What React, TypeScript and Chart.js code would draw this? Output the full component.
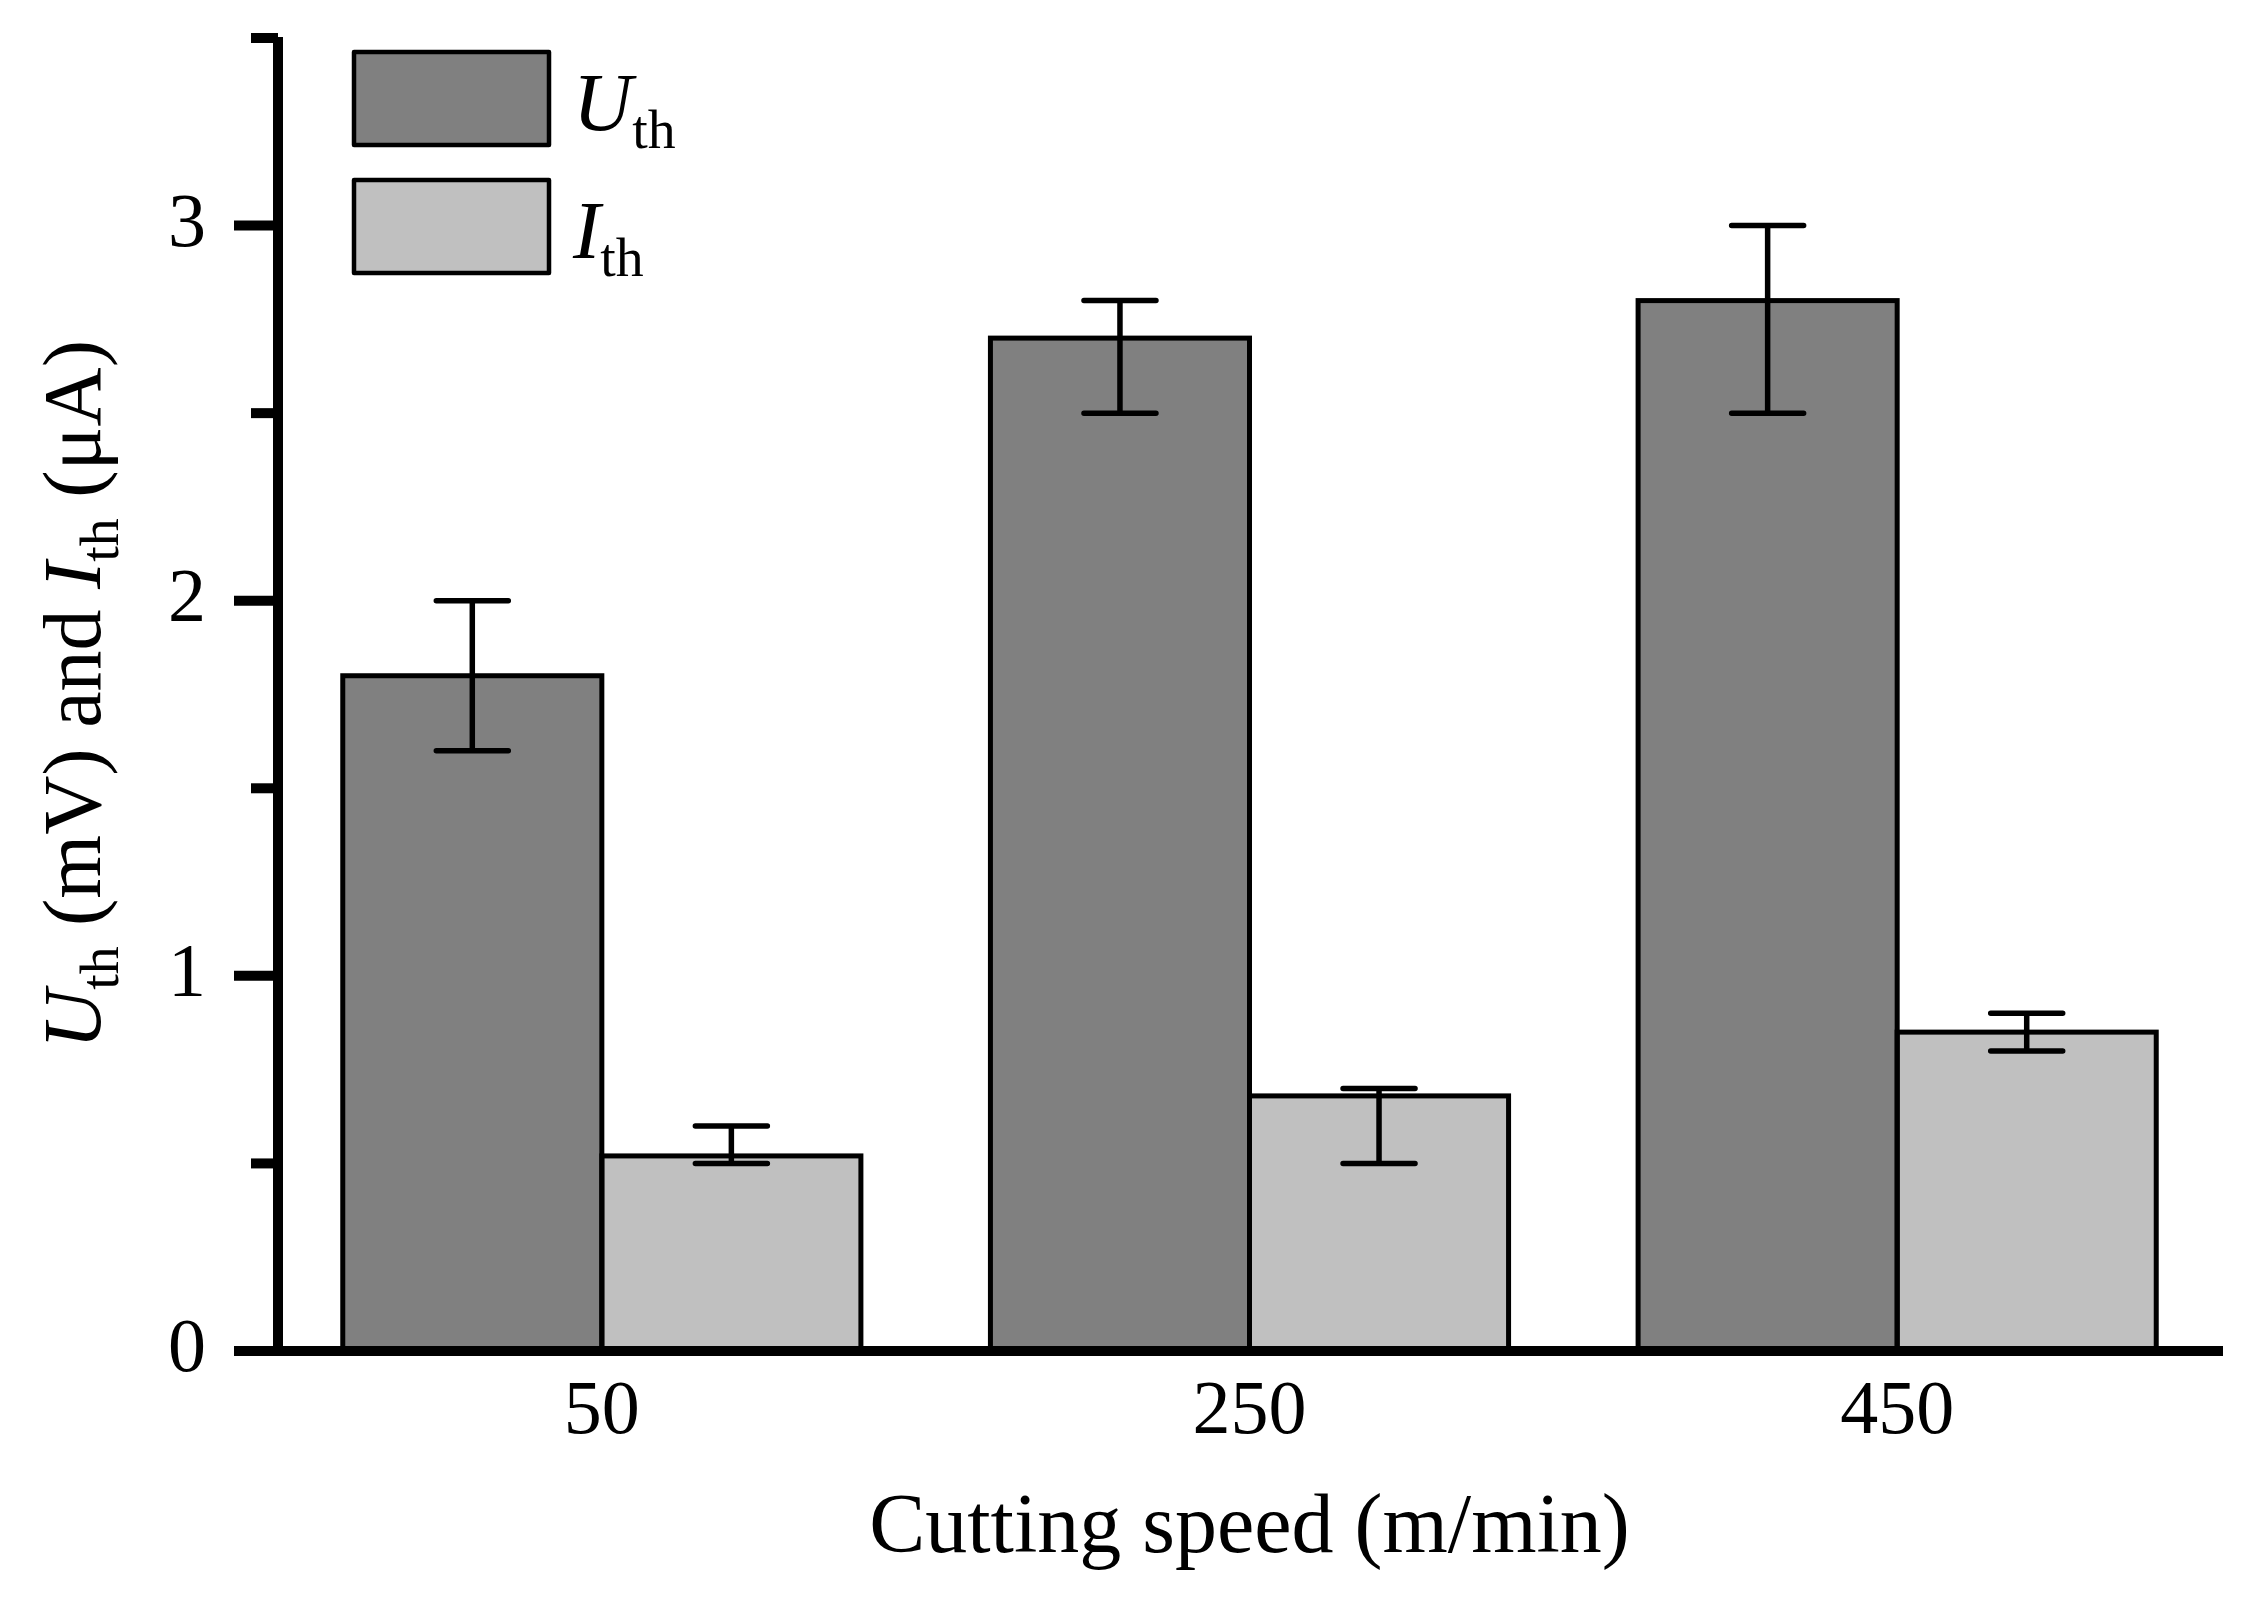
import { useEffect, useRef } from "react";
import { Chart, registerables } from "chart.js";

Chart.register(...registerables);

// cutting speed categories (m/min)
const speeds = ["50", "250", "450"];
// U_th (mV) with error range
const uth = [1.8, 2.7, 2.8];
const uthLow = [1.6, 2.5, 2.5];
const uthHigh = [2.0, 2.8, 3.0];
// I_th (uA) with error range
const ith = [0.52, 0.68, 0.85];
const ithLow = [0.5, 0.5, 0.8];
const ithHigh = [0.6, 0.7, 0.9];
// y axis range and step
const yMin = 0;
const yMax = 3.5;
const yStep = 0.5;

const errLow = [uthLow, ithLow];
const errHigh = [uthHigh, ithHigh];
const fills = ["#808080", "#c0c0c0"];
const seriesSymbols = ["U", "I"];

const SERIF = '"Liberation Serif", "Times New Roman", serif';

type Part = { t: string; it?: boolean; sub?: boolean };

function drawRich(ctx: CanvasRenderingContext2D, parts: Part[], size: number, x: number, y: number, measureOnly = false) {
  let cx = x;
  for (const p of parts) {
    const fs = p.sub ? size * 0.68 : size;
    ctx.font = `${p.it ? "italic " : ""}${fs}px ${SERIF}`;
    if (!measureOnly) ctx.fillText(p.t, cx, y + (p.sub ? size * 0.22 : 0));
    cx += ctx.measureText(p.t).width;
  }
  return cx - x;
}

const extrasPlugin = {
  id: "extras",
  afterDatasetsDraw(chart: any) {
    const ctx: CanvasRenderingContext2D = chart.ctx;
    const y = chart.scales.y;
    ctx.save();
    ctx.strokeStyle = "#000";
    // bar outlines (centred on the edges so adjacent bars share one line)
    ctx.lineWidth = 5;
    chart.data.datasets.forEach((_: any, di: number) => {
      chart.getDatasetMeta(di).data.forEach((el: any) => {
        const p = el.getProps(["x", "y", "base", "width"], true);
        ctx.strokeRect(p.x - p.width / 2, p.y, p.width, p.base - p.y);
      });
    });
    // error bars
    ctx.lineWidth = 5.5;
    ctx.lineCap = "round";
    chart.data.datasets.forEach((_: any, di: number) => {
      chart.getDatasetMeta(di).data.forEach((el: any, i: number) => {
        const cx = el.getProps(["x"], true).x;
        const lo = y.getPixelForValue(errLow[di][i]);
        const hi = y.getPixelForValue(errHigh[di][i]);
        const cap = 36;
        ctx.beginPath();
        ctx.moveTo(cx, lo);
        ctx.lineTo(cx, hi);
        ctx.moveTo(cx - cap, lo);
        ctx.lineTo(cx + cap, lo);
        ctx.moveTo(cx - cap, hi);
        ctx.lineTo(cx + cap, hi);
        ctx.stroke();
      });
    });
    ctx.restore();
  },
  afterDraw(chart: any) {
    const ctx: CanvasRenderingContext2D = chart.ctx;
    const { left, right, top, bottom } = chart.chartArea;
    const y = chart.scales.y;
    const y0 = y.getPixelForValue(yMin);
    const yTop = y.getPixelForValue(yMax);
    ctx.save();
    ctx.fillStyle = "#000";
    ctx.strokeStyle = "#000";
    ctx.lineCap = "butt";
    // ticks
    ctx.lineWidth = 10;
    y.ticks.forEach((t: any) => {
      const py = y.getPixelForValue(t.value);
      const len = Number.isInteger(t.value) ? 44 : 27;
      ctx.beginPath();
      ctx.moveTo(left - len, py);
      ctx.lineTo(left, py);
      ctx.stroke();
    });
    // axis lines
    ctx.beginPath();
    ctx.moveTo(left, yTop - 1);
    ctx.lineTo(left, y0);
    ctx.moveTo(left - 44, y0);
    ctx.lineTo(right + 2, y0);
    ctx.stroke();

    // legend
    const bx = left + 76;
    const bw = 195;
    const bh = 93;
    chart.data.datasets.forEach((ds: any, di: number) => {
      const by = top + 14 + di * 128;
      ctx.fillStyle = ds.backgroundColor;
      ctx.fillRect(bx, by, bw, bh);
      ctx.lineWidth = 4.5;
      ctx.lineJoin = "round";
      ctx.strokeRect(bx, by, bw, bh);
      ctx.fillStyle = "#000";
      ctx.textBaseline = "alphabetic";
      ctx.textAlign = "left";
      drawRich(ctx, [{ t: seriesSymbols[di], it: true }, { t: "th", sub: true }], 82, bx + bw + 24, by + bh / 2 + 31);
    });

    // axis titles
    ctx.fillStyle = "#000";
    ctx.textAlign = "left";
    ctx.textBaseline = "alphabetic";
    const xParts: Part[] = [{ t: "Cutting speed (m/min)" }];
    const xw = drawRich(ctx, xParts, 84, 0, 0, true);
    drawRich(ctx, xParts, 84, (left + right) / 2 - xw / 2, 1552);

    const yParts: Part[] = [
      { t: "U", it: true },
      { t: "th", sub: true },
      { t: " (mV) and " },
      { t: "I", it: true },
      { t: "th", sub: true },
      { t: " (\u03bcA)" },
    ];
    const yw = drawRich(ctx, yParts, 82, 0, 0, true);
    ctx.translate(100, (top + bottom) / 2);
    ctx.rotate(-Math.PI / 2);
    drawRich(ctx, yParts, 82, -yw / 2, 0);
    ctx.restore();
  },
};

export default function App() {
  const ref = useRef<HTMLCanvasElement | null>(null);

  useEffect(() => {
    if (!ref.current) return;
    const chart = new Chart(ref.current, {
      type: "bar",
      data: {
        labels: speeds,
        datasets: [
          { label: "U_th", data: uth, backgroundColor: fills[0], borderWidth: 0 },
          { label: "I_th", data: ith, backgroundColor: fills[1], borderWidth: 0 },
        ],
      },
      options: {
        animation: false,
        responsive: false,
        events: [],
        layout: { padding: { left: 0, right: 40, top: 38, bottom: 0 } },
        datasets: { bar: { barPercentage: 1, categoryPercentage: 0.8 } },
        plugins: { legend: { display: false }, tooltip: { enabled: false }, title: { display: false } },
        scales: {
          x: {
            offset: true,
            grid: { display: false },
            border: { display: false },
            ticks: { color: "#000", font: { family: SERIF, size: 76 }, padding: 8 },
            afterFit: (s: any) => {
              s.height = 253;
              s.paddingLeft = 0;
              s.paddingRight = 0;
            },
          },
          y: {
            min: yMin,
            max: yMax,
            grid: { display: false },
            border: { display: false },
            ticks: {
              stepSize: yStep,
              autoSkip: false,
              color: "#000",
              font: { family: SERIF, size: 76 },
              padding: 64,
              callback: (v: any) => (Number.isInteger(v) ? String(v) : ""),
            },
            afterFit: (s: any) => {
              s.width = 278;
              s.paddingTop = 0;
              s.paddingBottom = 0;
            },
          },
        },
      },
      plugins: [extrasPlugin],
    } as any);
    return () => chart.destroy();
  }, []);

  return (
    <div style={{ position: "absolute", left: 0, top: 0, width: 2261, height: 1604, background: "#fff" }}>
      <canvas ref={ref} width={2261} height={1604} style={{ display: "block", width: 2261, height: 1604 }} />
    </div>
  );
}
